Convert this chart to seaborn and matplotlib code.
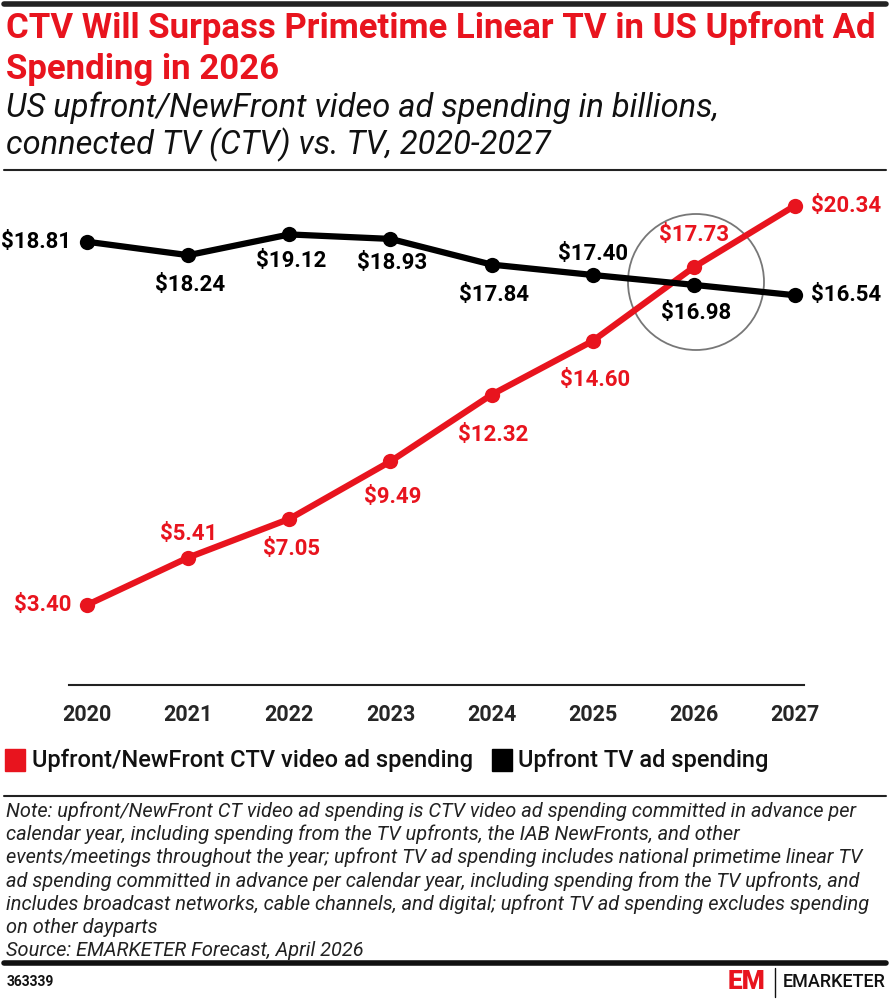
import matplotlib
matplotlib.use("Agg")
import matplotlib.pyplot as plt
from matplotlib.patches import Ellipse, Rectangle
import seaborn as sns
import pandas as pd

years = [2020, 2021, 2022, 2023, 2024, 2025, 2026, 2027]
ctv = [3.40, 5.41, 7.05, 9.49, 12.32, 14.60, 17.73, 20.34]
tv = [18.81, 18.24, 19.12, 18.93, 17.84, 17.40, 16.98, 16.54]
series_names = ["Upfront/NewFront CTV video ad spending", "Upfront TV ad spending"]

# label placement (layout only): side and vertical pixel distance
ctv_pos = ["left", "above", "below", "below", "below", "below", "above", "right"]
ctv_dist = [0, 24, 30, 36, 40, 39, 32, 0]
tv_pos = ["left", "below", "below", "below", "below", "above", "below", "right"]
tv_dist = [0, 30, 27, 24, 30, 21, 28, 0]

RED = "#E8141E"
BLACK = "#000000"

sns.set_theme(style="white")
plt.rcParams["font.family"] = ["Roboto", "DejaVu Sans"]

df = pd.DataFrame({
    "year": years * 2,
    "value": ctv + tv,
    "series": [series_names[0]] * len(years) + [series_names[1]] * len(years),
})

fig = plt.figure(figsize=(8.9, 10), dpi=100)
ax = fig.add_axes([69 / 890, 0.315, (804 - 69) / 890, 0.505])

sns.lineplot(data=df, x="year", y="value", hue="series",
             palette={series_names[0]: RED, series_names[1]: BLACK},
             marker="o", markersize=11, markeredgewidth=0, linewidth=4.5,
             legend=False, ax=ax)

ax.set_xlim(2019.82, 2027.09)
ax.set_ylim(0, 21.43)
ax.set_xticks(years)
ax.set_xticklabels([str(y) for y in years], fontsize=15.5, fontweight="bold")
ax.set_yticks([])
ax.set_xlabel("")
ax.set_ylabel("")
for s in ["top", "right", "left"]:
    ax.spines[s].set_visible(False)
ax.spines["bottom"].set_color("#222222")
ax.spines["bottom"].set_linewidth(1.5)
ax.tick_params(axis="x", length=0, pad=14)

def place(vals, poss, dists, color):
    for x, v, p, d in zip(years, vals, poss, dists):
        t = f"${v:.2f}"
        kw = dict(color=color, fontsize=16, fontweight="bold", textcoords="offset pixels")
        if p == "left":
            ax.annotate(t, (x, v), xytext=(-16, 0), ha="right", va="center", **kw)
        elif p == "right":
            ax.annotate(t, (x, v), xytext=(16, 0), ha="left", va="center", **kw)
        elif p == "above":
            ax.annotate(t, (x, v), xytext=(0, d), ha="center", va="center", **kw)
        else:
            ax.annotate(t, (x, v), xytext=(2, -d), ha="center", va="center", **kw)

place(ctv, ctv_pos, ctv_dist, RED)
place(tv, tv_pos, tv_dist, BLACK)

# highlight circle around the 2026 crossover
ax.add_artist(Ellipse((696 / 890, 1 - 282 / 1000), 136 / 890, 136 / 1000,
                      transform=fig.transFigure, fill=False, edgecolor="#777777", linewidth=1.3))

# header
fig.add_artist(plt.Line2D([0.005, 0.995], [0.996, 0.996], color="#222222", linewidth=4, transform=fig.transFigure))
fig.text(0.007, 0.028 * 0 + 0.972, "CTV Will Surpass Primetime Linear TV in US Upfront Ad",
         color=RED, fontsize=25, fontweight="bold", va="center", ha="left")
fig.text(0.007, 0.930, "Spending in 2026",
         color=RED, fontsize=25, fontweight="bold", va="center", ha="left")
fig.text(0.007, 0.892, "US upfront/NewFront video ad spending in billions,",
         color="#111111", fontsize=23.5, fontstyle="italic", va="center", ha="left")
fig.text(0.007, 0.855, "connected TV (CTV) vs. TV, 2020-2027",
         color="#111111", fontsize=23.5, fontstyle="italic", va="center", ha="left")
fig.add_artist(plt.Line2D([0.005, 0.995], [0.830, 0.830], color="#222222", linewidth=1.5, transform=fig.transFigure))

# legend
fig.add_artist(Rectangle((5 / 890, 1 - 771 / 1000), 20 / 890, 22 / 1000, color=RED, transform=fig.transFigure))
fig.text(32 / 890, 1 - 760 / 1000, series_names[0], fontsize=17, fontweight="medium", va="center", ha="left", color="#111111")
fig.add_artist(Rectangle((492 / 890, 1 - 771 / 1000), 20 / 890, 22 / 1000, color=BLACK, transform=fig.transFigure))
fig.text(518 / 890, 1 - 760 / 1000, series_names[1], fontsize=17, fontweight="medium", va="center", ha="left", color="#111111")

# note
fig.add_artist(plt.Line2D([0.005, 0.995], [1 - 796 / 1000, 1 - 796 / 1000], color="#222222", linewidth=1.5, transform=fig.transFigure))
note = ("Note: upfront/NewFront CT video ad spending is CTV video ad spending committed in advance per\n"
        "calendar year, including spending from the TV upfronts, the IAB NewFronts, and other\n"
        "events/meetings throughout the year; upfront TV ad spending includes national primetime linear TV\n"
        "ad spending committed in advance per calendar year, including spending from the TV upfronts, and\n"
        "includes broadcast networks, cable channels, and digital; upfront TV ad spending excludes spending\n"
        "on other dayparts\n"
        "Source: EMARKETER Forecast, April 2026")
fig.text(0.007, 1 - 801 / 1000, note, fontsize=14.4, fontstyle="italic", va="top", ha="left",
         color="#222222", linespacing=1.25)
fig.add_artist(plt.Line2D([0.005, 0.995], [1 - 963 / 1000, 1 - 963 / 1000], color="#111111", linewidth=4, transform=fig.transFigure))
fig.text(0.007, 1 - 982 / 1000, "363339", fontsize=10, fontweight="bold", va="center", ha="left", color="#111111")
fig.text(0.880, 1 - 982 / 1000, "EMARKETER", fontsize=13, fontweight="medium", va="center", ha="left", color="#111111")
fig.text(0.860, 1 - 982 / 1000, "EM", fontsize=19, fontweight="black", va="center", ha="right", color=RED)
fig.add_artist(plt.Line2D([0.871, 0.871], [1 - 997 / 1000, 1 - 968 / 1000], color="#111111", linewidth=1, transform=fig.transFigure))

fig.savefig("out.png", dpi=100)
